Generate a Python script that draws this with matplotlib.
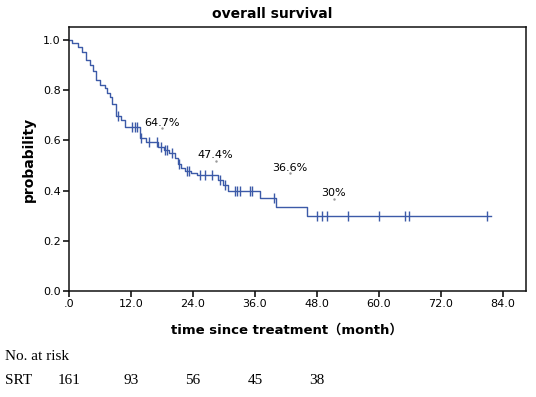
import numpy as np
import matplotlib
matplotlib.use("Agg")
import matplotlib.pyplot as plt
import matplotlib.transforms as mtransforms

# Kaplan-Meier steps (event time in months, survival after the step)
event_times = [0.5, 1.8, 2.5, 3.3, 4.1, 4.7, 5.2, 6.0, 7.0, 7.3, 7.9, 8.3, 9.1, 10.0,
               10.8, 13.7, 15.0, 17.3, 18.3, 19.3, 20.5, 21.1, 21.7, 22.5, 23.7, 24.7,
               28.8, 29.8, 30.8, 36.9, 40.0, 46.0]
event_surv = [0.988, 0.973, 0.953, 0.920, 0.900, 0.878, 0.840, 0.822, 0.808, 0.790,
              0.774, 0.745, 0.697, 0.680, 0.655, 0.610, 0.595, 0.575, 0.562, 0.548,
              0.528, 0.508, 0.489, 0.478, 0.469, 0.462, 0.442, 0.422, 0.400, 0.369,
              0.333, 0.300]
censor_times = [9.4, 12.1, 12.8, 13.2, 14.0, 15.5, 17.0, 17.8, 18.6, 19.0, 20.0, 21.3,
                22.8, 23.2, 25.3, 26.3, 27.6, 29.2, 30.2, 32.1, 32.6, 33.1, 35.1, 35.5,
                39.7, 48.0, 48.9, 50.0, 54.0, 60.0, 65.1, 65.9, 80.9]
last_time = 81.6

# rate labels (text, month, position)
rate_labels = ["64.7%", "47.4%", "36.6%", "30%"]
rate_x = [18.0, 28.4, 42.7, 51.2]
rate_y = [0.671, 0.540, 0.492, 0.390]

# number at risk table
risk_times = [0, 12, 24, 36, 48]
risk_counts = [161, 93, 56, 45, 38]

xticks = [0, 12, 24, 36, 48, 60, 72, 84]
xtick_labels = [".0", "12.0", "24.0", "36.0", "48.0", "60.0", "72.0", "84.0"]
yticks = [0.0, 0.2, 0.4, 0.6, 0.8, 1.0]

line_color = "#3c5aa8"

fig = plt.figure(figsize=(5.36, 3.97), dpi=100)
ax = fig.add_axes([0.1287, 0.267, 0.8526, 0.665])

# step curve
xs = [0] + event_times + [last_time]
ys = [1.0] + event_surv + [event_surv[-1]]
ax.step(xs, ys, where="post", color=line_color, lw=1.0)

# censor marks sit on the curve level at that time
ct = np.array(censor_times)
idx = np.searchsorted(np.array(xs), ct, side="right") - 1
cy = np.array(ys)[idx]
ax.plot(ct, cy, linestyle="none", marker="|", markersize=6.5, mew=1.0, color=line_color)

for lab, x, y in zip(rate_labels, rate_x, rate_y):
    ax.text(x, y, lab, ha="center", va="center", fontsize=8, color="black")
    # small grey dot under each label, as in the original
    ax.plot(x, y - 0.022, marker=".", markersize=1.5, color="#999999")

ax.set_xlim(0, 88.45)
ax.set_ylim(0, 1.052)
ax.set_xticks(xticks)
ax.set_xticklabels(xtick_labels)
ax.set_yticks(yticks)
ax.set_yticklabels([f"{v:.1f}" for v in yticks])
ax.tick_params(direction="out", length=4, width=1.1, labelsize=8, colors="black", pad=2)
for s in ax.spines.values():
    s.set_linewidth(1.1)
    s.set_color("#111111")

ax.set_ylabel("probability", fontsize=10, fontweight="bold", labelpad=5)

fig.text(272 / 536, 1 - 14 / 397, "overall survival", ha="center", va="center",
         fontsize=10, fontweight="bold")
fig.text(287 / 536, 1 - 330 / 397, "time since treatment（month）", ha="center",
         va="center", fontsize=9.5, fontweight="bold",
         family=["DejaVu Sans", "Noto Sans CJK SC"])

# at-risk table in serif
serif = ["Liberation Serif", "DejaVu Serif"]
fig.text(5 / 536, 1 - 357 / 397, "No. at risk", ha="left", va="center",
         fontsize=11, family=serif)
fig.text(5 / 536, 1 - 381 / 397, "SRT", ha="left", va="center",
         fontsize=11, family=serif)
trans = mtransforms.blended_transform_factory(ax.transData, fig.transFigure)
for t, n in zip(risk_times, risk_counts):
    ax.text(t, 1 - 381 / 397, str(n), transform=trans, ha="center", va="center",
            fontsize=11, family=serif, clip_on=False)

fig.savefig("out.png", dpi=100)
